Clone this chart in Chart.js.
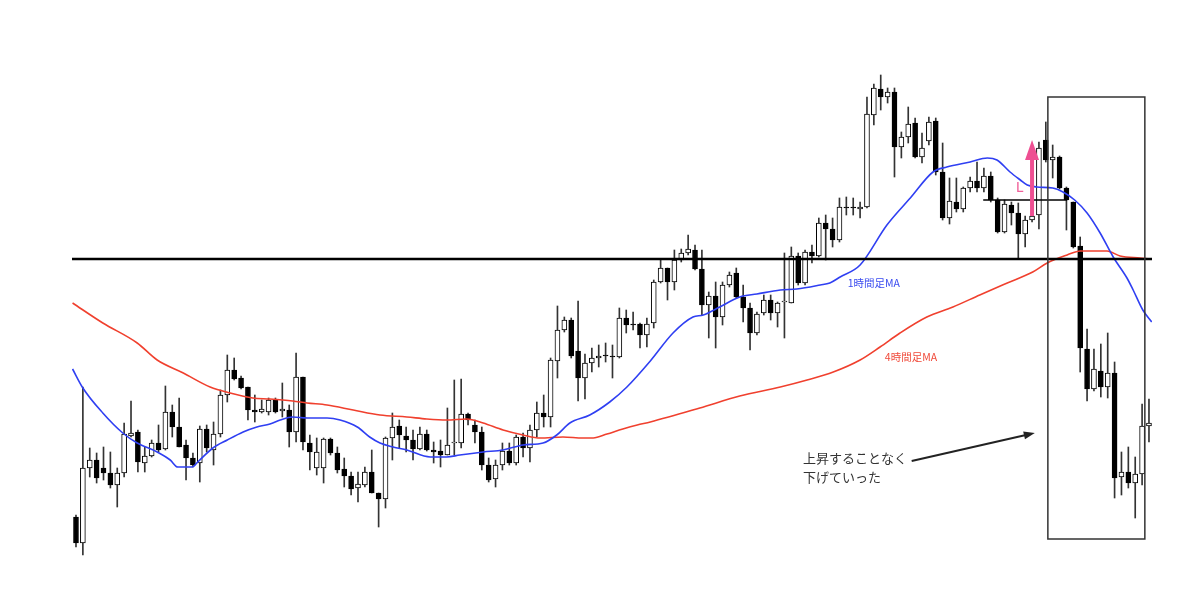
<!DOCTYPE html>
<html lang="ja">
<head>
<meta charset="utf-8">
<title>1時間足MA / 4時間足MA</title>
<script src="https://cdn.jsdelivr.net/npm/chart.js@4.4.0/dist/chart.umd.min.js"></script>
<style>
  html, body { margin: 0; padding: 0; background: #fff; }
  #wrap { width: 1200px; height: 600px; position: relative; }
</style>
</head>
<body>
<div id="wrap"><canvas id="chart"></canvas></div>
<script>
// ローソク足 (上が高値) 左から順に
const opens = [83,57,132,140,132,127,115,127,164,168,137,144,157,151,188,173,155,142,137,171,150,166,205,230,222,213,190,188,188,200,
  189,190,168,223,157,132,132,161,147,131,124,112,115,128,107,101,162,174,164,160,151,166,150,149,145,157,157,186,175,168,
  135,121,135,149,137,163,152,170,187,183,239,270,280,249,222,237,242,245,244,243,282,276,276,265,277,318,332,318,340,347,
  350,331,295,304,283,315,327,303,292,267,287,300,287,298,297,344,317,348,344,377,371,360,393,393,391,393,485,511,503,508,
  453,463,477,443,459,479,428,382,398,391,412,419,412,424,400,368,395,387,366,380,385,460,440,443,412,398,354,251,211,229,
  213,227,123,128,117,126,174];
const highs = [85,213,152,147,153,148,132,177,199,170,153,160,175,214,195,202,160,147,174,175,178,210,245,242,224,213,205,200,202,202,
  217,195,247,223,165,162,162,162,153,142,128,128,133,150,107,163,187,180,173,170,173,170,158,160,192,220,221,187,180,173,
  142,140,157,157,165,167,175,198,205,242,294,283,282,299,246,252,255,257,255,292,290,288,277,282,320,340,332,350,351,365,
  355,350,308,318,318,328,332,315,297,288,305,305,298,347,353,347,350,355,382,385,382,402,403,402,398,503,516,525,512,512,
  468,493,482,467,483,482,457,422,422,413,423,438,432,428,402,400,398,397,384,395,458,478,455,444,413,398,363,271,251,256,
  267,238,148,153,143,196,201];
const lows = [53,45,123,117,120,112,93,123,163,128,128,143,148,150,163,153,120,133,118,148,135,163,198,220,211,180,178,187,185,187,
  183,153,158,150,130,125,117,145,127,113,105,98,113,107,73,92,140,152,148,140,150,149,137,133,145,145,152,175,157,130,
  118,113,130,135,135,143,138,163,173,173,222,268,242,199,201,228,233,238,222,242,267,270,252,253,272,317,300,310,338,345,
  330,285,262,252,275,313,302,278,250,265,285,280,273,262,297,315,315,337,343,340,353,358,385,385,382,392,475,490,497,423,
  442,457,442,437,455,425,380,376,388,388,408,408,408,398,367,367,375,342,353,378,371,438,422,411,370,352,228,199,209,203,
  202,102,105,112,82,115,158];
const closes = [57,132,140,122,127,115,127,166,167,138,144,157,150,188,173,153,142,135,171,152,166,205,230,221,212,190,188,191,200,188,
  191,168,223,158,148,148,161,147,130,124,111,116,128,107,101,162,173,165,160,151,166,150,148,145,155,158,186,180,168,135,
  120,135,149,137,163,152,170,187,183,240,270,280,244,222,237,242,244,244,243,282,275,275,265,276,318,332,318,340,347,351,
  331,295,304,283,315,325,303,292,267,286,300,287,297,299,344,317,348,344,377,371,360,393,392,392,393,486,512,503,508,453,
  463,476,443,452,478,428,382,399,391,412,419,412,424,400,368,396,387,366,380,384,452,440,443,412,400,353,252,211,231,213,
  227,122,128,117,126,174,177];

// 移動平均線 [ローソク足の位置, 値]
const ma1h = [[-0.5,231],[1.0,212],[3.9,187],[6.8,167],[8.9,157],[11.8,148],[13.7,140],[14.8,133],[16.9,133],[17.7,138],
  [19.9,152],[22.0,160],[24.3,168],[26.3,173],[28.2,176],[29.7,180],[31.5,183],[33.6,182],[36.5,182],[38.4,180],
  [40.9,173],[42.7,163],[44.2,157],[46.1,153],[48.1,150],[51.5,143],[53.9,143],[55.8,145],[59.2,148],[62.1,150],
  [65.0,155],[67.9,157],[69.9,165],[71.8,177],[74.7,185],[77.6,198],[80.1,213],[83.5,239],[86.8,267],[89.7,283],
  [91.2,285],[93.6,293],[96.5,303],[99.0,306],[102.4,310],[104.8,311],[108.2,315],[109.6,317],[111.1,323],[114.0,335],
  [117.9,375],[121.3,402],[124.6,428],[126.6,433],[130.0,438],[132.5,442],[133.9,440],[135.8,428],[137.3,420],[138.3,415],
  [139.7,413],[142.0,412],[143.5,408],[145.2,400],[147.0,387],[148.9,367],[150.8,343],[152.8,322],[153.7,310],[155.1,290],
  [156.4,278]];
const ma4h = [[-0.5,297],[3.9,277],[8.9,257],[11.8,240],[15.6,227],[19.5,213],[22.4,207],[25.7,202],[28.2,201],[31.5,199],
  [33.6,197],[36.5,195],[40.3,190],[44.2,185],[48.1,183],[51.0,181],[53.9,180],[56.8,181],[59.2,177],[62.1,170],
  [65.0,165],[67.5,162],[70.8,163],[73.7,162],[75.2,162],[77.2,166],[79.5,171],[81.6,175],[83.5,178],[90.7,192],
  [96.5,204],[102.4,213],[106.3,220],[110.1,228],[114.0,240],[116.9,253],[119.8,267],[123.7,283],[127.5,293],[131.4,305],
  [135.4,317],[139.1,328],[141.2,337],[144.1,345],[146.0,349],[149.9,349],[151.8,344],[154.7,342],[156.4,341]];

// 書き込み (データ単位)
const supportLevel = 341;
const lLevel = { from: 131.9, to: 144.1, y: 400 };
const box = { x1: 141.3, x2: 155.4, y1: 503, y2: 61 };
const upArrow = { x: 139, from: 384, to: 460 };
const noteArrow = { x1: 121.5, y1: 139, x2: 139.4, y2: 167 };

const wicks = highs.map((h, i) => ({ x: i, y: [lows[i], h] }));
const bodies = opens.map((o, i) => ({ x: i, y: [o, closes[i]] }));
const bodyColors = opens.map((o, i) => closes[i] > o ? '#ffffff' : '#000000');

const notes = {
  id: 'notes',
  afterDatasetsDraw(chart) {
    const { ctx, chartArea, scales: { x, y } } = chart;
    ctx.save();

    // 水平線
    ctx.strokeStyle = '#000';
    ctx.lineWidth = 2.5;
    ctx.beginPath();
    ctx.moveTo(chartArea.left, y.getPixelForValue(supportLevel));
    ctx.lineTo(chartArea.right, y.getPixelForValue(supportLevel));
    ctx.stroke();

    // L のライン
    ctx.lineWidth = 1.5;
    ctx.beginPath();
    ctx.moveTo(x.getPixelForValue(lLevel.from), y.getPixelForValue(lLevel.y));
    ctx.lineTo(x.getPixelForValue(lLevel.to), y.getPixelForValue(lLevel.y));
    ctx.stroke();

    // 枠
    ctx.strokeStyle = '#333';
    ctx.lineWidth = 1.5;
    const bx = x.getPixelForValue(box.x1), by = y.getPixelForValue(box.y1);
    ctx.strokeRect(bx, by, x.getPixelForValue(box.x2) - bx, y.getPixelForValue(box.y2) - by);

    // ピンクの矢印
    const ax = x.getPixelForValue(upArrow.x);
    const aBottom = y.getPixelForValue(upArrow.from);
    const aTip = y.getPixelForValue(upArrow.to);
    ctx.fillStyle = '#ee4f92';
    ctx.fillRect(ax - 2, aTip + 18, 4, aBottom - aTip - 18);
    ctx.beginPath();
    ctx.moveTo(ax, aTip);
    ctx.lineTo(ax - 7, aTip + 20);
    ctx.lineTo(ax + 7, aTip + 20);
    ctx.closePath();
    ctx.fill();

    // 黒い矢印
    const x1 = x.getPixelForValue(noteArrow.x1), y1 = y.getPixelForValue(noteArrow.y1);
    const x2 = x.getPixelForValue(noteArrow.x2), y2 = y.getPixelForValue(noteArrow.y2);
    const ang = Math.atan2(y2 - y1, x2 - x1);
    ctx.strokeStyle = '#222';
    ctx.fillStyle = '#222';
    ctx.lineWidth = 2;
    ctx.beginPath();
    ctx.moveTo(x1, y1);
    ctx.lineTo(x2 - 8 * Math.cos(ang), y2 - 8 * Math.sin(ang));
    ctx.stroke();
    ctx.beginPath();
    ctx.moveTo(x2, y2);
    ctx.lineTo(x2 - 11 * Math.cos(ang) + 4 * Math.sin(ang), y2 - 11 * Math.sin(ang) - 4 * Math.cos(ang));
    ctx.lineTo(x2 - 11 * Math.cos(ang) - 4 * Math.sin(ang), y2 - 11 * Math.sin(ang) + 4 * Math.cos(ang));
    ctx.closePath();
    ctx.fill();

    // 文字
    ctx.textBaseline = 'middle';
    ctx.textAlign = 'left';
    ctx.font = '10.5px "Noto Sans CJK JP", sans-serif';
    ctx.fillStyle = '#3b4cf0';
    ctx.fillText('1時間足MA', x.getPixelForValue(112.2), y.getPixelForValue(317));
    ctx.fillStyle = '#f04a3a';
    ctx.fillText('4時間足MA', x.getPixelForValue(117.6), y.getPixelForValue(243));

    ctx.font = '13px "Noto Sans CJK JP", sans-serif';
    ctx.fillStyle = '#333';
    ctx.fillText('上昇することなく', x.getPixelForValue(105.7), y.getPixelForValue(142));
    ctx.fillText('下げていった', x.getPixelForValue(105.7), y.getPixelForValue(123));

    ctx.font = '15px "Noto Sans", sans-serif';
    ctx.fillStyle = '#f0609a';
    ctx.textAlign = 'center';
    ctx.fillText('L', x.getPixelForValue(137.2), y.getPixelForValue(412));

    ctx.restore();
  }
};

new Chart(document.getElementById('chart'), {
  type: 'bar',
  data: {
    datasets: [
      {
        type: 'line', label: '1時間足MA', data: ma1h.map(p => ({ x: p[0], y: p[1] })),
        borderColor: '#2f3ff2', borderWidth: 1.6, pointRadius: 0,
        cubicInterpolationMode: 'monotone', order: 0
      },
      {
        type: 'line', label: '4時間足MA', data: ma4h.map(p => ({ x: p[0], y: p[1] })),
        borderColor: '#f0402e', borderWidth: 1.6, pointRadius: 0,
        cubicInterpolationMode: 'monotone', order: 0
      },
      {
        label: 'body', data: bodies, backgroundColor: bodyColors,
        borderColor: '#000', borderWidth: 1, borderSkipped: false,
        barThickness: 5, grouped: false, order: 1
      },
      {
        label: 'wick', data: wicks, backgroundColor: '#333',
        barThickness: 1, grouped: false, order: 2
      }
    ]
  },
  options: {
    responsive: true,
    maintainAspectRatio: false,
    animation: false,
    layout: { padding: { left: 72, right: 48, top: 0, bottom: 0 } },
    scales: {
      x: { type: 'linear', offset: false, min: -0.58, max: 156.44, display: false },
      y: { min: 0, max: 600, display: false }
    },
    plugins: {
      legend: { display: false },
      tooltip: { enabled: false }
    }
  },
  plugins: [notes]
});
</script>
</body>
</html>
